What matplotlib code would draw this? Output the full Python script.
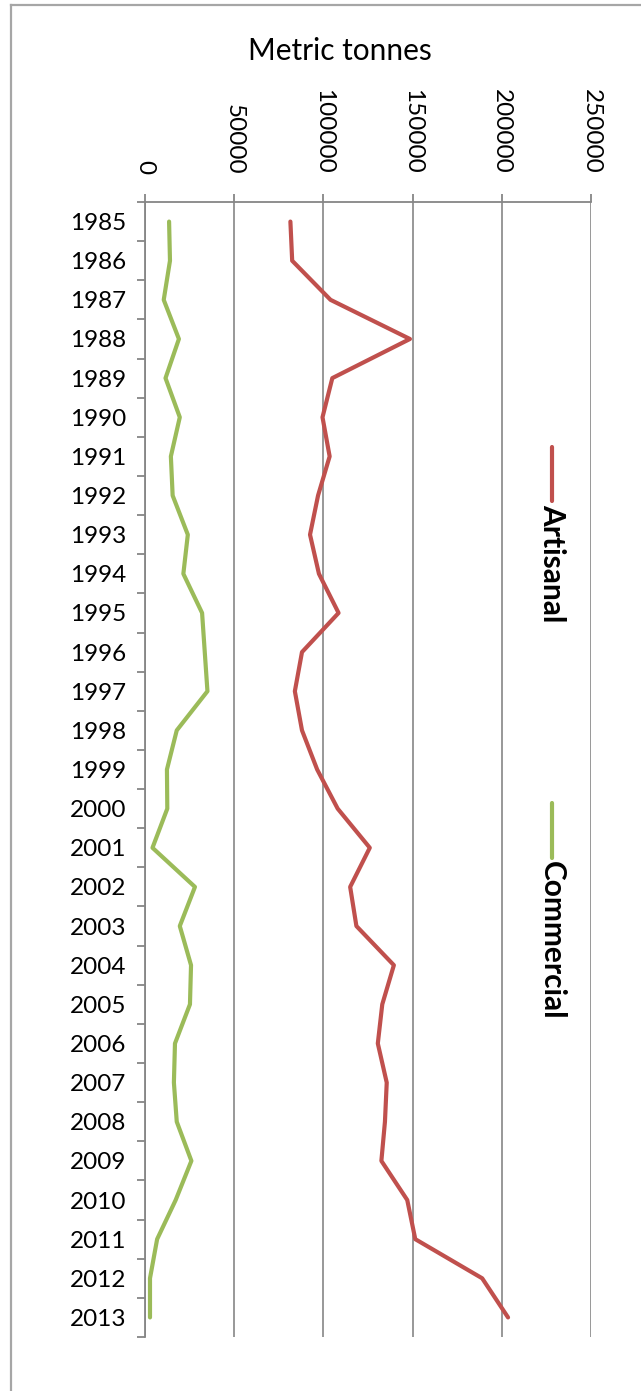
import numpy as np
import matplotlib.pyplot as plt
from matplotlib.lines import Line2D

plt.rcParams['font.family'] = ['Lato', 'DejaVu Sans']

# Datos (toneladas metricas)
years = list(range(1985, 2014))
artisanal = [81500, 82500, 104000, 148500, 105000, 99500, 103500, 97000, 92500, 97500,
             108500, 88000, 84000, 88000, 96500, 108000, 126000, 115000, 118500, 139500,
             133000, 130500, 135500, 134500, 132500, 147000, 151500, 189000, 203500]
commercial = [13500, 14000, 10500, 19000, 11500, 19500, 14500, 15500, 24000, 21500,
              32000, 33500, 35000, 17800, 12300, 12500, 4200, 28000, 19500, 25800,
              25200, 16800, 16200, 17800, 26000, 17200, 6800, 2800, 2800]
series = ['Artisanal', 'Commercial']
colores = ['#C0504D', '#9BBB59']
x_ticks = list(range(0, 250001, 50000))

fig = plt.figure(figsize=(6.41, 13.91), dpi=100)
ax = fig.add_axes([145/641, 1 - 1337/1391, 446/641, 1135/1391])

gris = '#868686'
ax.plot(artisanal, years, color=colores[0], lw=3, solid_capstyle='round', zorder=3)
ax.plot(commercial, years, color=colores[1], lw=3, solid_capstyle='round', zorder=3)

ax.set_xlim(0, 250000)
ax.set_ylim(years[-1] + 0.5, years[0] - 0.5)

# Eje de valores arriba, etiquetas giradas
ax.xaxis.tick_top()
ax.set_xticks(x_ticks)
ax.set_xticklabels([str(v) for v in x_ticks], rotation=-90, fontsize=17.5)
ax.tick_params(axis='x', which='major', length=6, width=1.3, color=gris, pad=14)
ax.grid(axis='x', color=gris, lw=1.2)
ax.set_axisbelow(True)

# Eje de categorias: marcas entre anos, etiquetas en el centro
ax.set_yticks(np.arange(years[0] - 0.5, years[-1] + 1, 1))
ax.set_yticklabels([])
ax.set_yticks(years, minor=True)
ax.set_yticklabels([str(y) for y in years], minor=True, fontsize=17.5)
ax.tick_params(axis='y', which='major', length=6, width=1.3, color=gris)
ax.tick_params(axis='y', which='minor', length=0, pad=13.5)

for s in ['right', 'bottom']:
    ax.spines[s].set_visible(False)
for s in ['top', 'left']:
    ax.spines[s].set_color(gris)
    ax.spines[s].set_linewidth(1.3)

# Leyenda girada
leg_x = (552 - 145) / 446
for nombre, color, y0, y1 in [(series[0], colores[0], 0.7841, 0.7366),
                              (series[1], colores[1], 0.4705, 0.4220)]:
    ax.plot([leg_x, leg_x], [y0, y1], transform=ax.transAxes, color=color, lw=3,
            solid_capstyle='round', clip_on=False)
    ax.text(leg_x, y1 - 0.003, nombre, transform=ax.transAxes, rotation=-90,
            ha='center', va='top', fontsize=21.5, fontweight='bold')

fig.text(340/641, 1 - 60/1391, 'Metric tonnes', ha='center', va='baseline', fontsize=21.5)

# Borde del grafico
borde = '#A6A6A6'
fig.add_artist(Line2D([11/641, 11/641], [0, 1 - 5/1391], color=borde, lw=1.6))
fig.add_artist(Line2D([11/641, 1], [1 - 5/1391, 1 - 5/1391], color=borde, lw=1.6))

plt.savefig('out.png', dpi=100)
